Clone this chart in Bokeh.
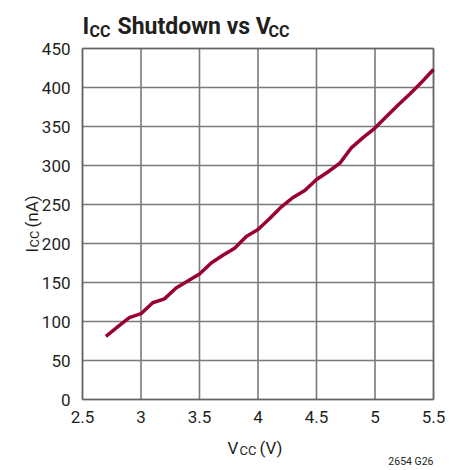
from bokeh.plotting import figure
from bokeh.models import Label, FixedTicker, Range1d, BoxAnnotation
from bokeh.embed import file_html
from bokeh.resources import INLINE

# ---- data ----
vcc = [2.7, 2.8, 2.9, 3.0, 3.1, 3.2, 3.3, 3.4, 3.5, 3.6, 3.7, 3.8, 3.9, 4.0,
       4.1, 4.2, 4.3, 4.4, 4.5, 4.6, 4.7, 4.8, 4.9, 5.0, 5.1, 5.2, 5.3, 5.4, 5.5]
icc = [81, 93, 105, 110, 124, 129, 143, 152, 161, 175, 185, 194, 209, 218,
       232, 247, 259, 268, 282, 292, 303, 323, 336, 348, 363, 378, 392, 407, 423]
x_ticks = [2.5, 3.0, 3.5, 4.0, 4.5, 5.0, 5.5]
x_tick_labels = ["2.5", "3", "3.5", "4", "4.5", "5", "5.5"]
y_ticks = [0, 50, 100, 150, 200, 250, 300, 350, 400, 450]

# ---- layout (page pixels) ----
W, H = 461, 470
PL, PR, PT, PB = 82, 433, 48, 399          # plotting box edges
FONT = "Roboto"
TXT = "#231f20"

x_lo, x_hi = x_ticks[0], x_ticks[-1]
y_lo, y_hi = y_ticks[0], y_ticks[-1]
sx = (PR - PL) / (x_hi - x_lo)
sy = (PB - PT) / (y_hi - y_lo)

p = figure(width=W, height=H, output_backend="svg", toolbar_location=None, title=None,
           x_range=Range1d(x_lo - PL / sx, x_hi + (W - PR) / sx),
           y_range=Range1d(y_lo - (H - PB) / sy, y_hi + PT / sy),
           min_border=0)
p.outline_line_color = None
p.background_fill_color = "white"
p.border_fill_color = "white"
p.xgrid.visible = False
p.ygrid.visible = False

# grid lines from the tick arrays
p.segment(x0=x_ticks, y0=[y_lo] * len(x_ticks), x1=x_ticks, y1=[y_hi] * len(x_ticks),
          line_color="#7a7a7a", line_width=1.6)
p.segment(x0=[x_lo] * len(y_ticks), y0=y_ticks, x1=[x_hi] * len(y_ticks), y1=y_ticks,
          line_color="#7a7a7a", line_width=1.6)

p.line(vcc, icc, line_color="#990033", line_width=3.5)

# plot box border
p.add_layout(BoxAnnotation(left=x_lo, right=x_hi, bottom=y_lo, top=y_hi,
                           fill_alpha=0, line_color="#333333", line_width=2))

# axes pinned to the box edges
xa, ya = p.xaxis[0], p.yaxis[0]
xa.fixed_location = y_lo
ya.fixed_location = x_lo
xa.bounds = (x_lo, x_hi)
ya.bounds = (y_lo, y_hi)
for ax in (xa, ya):
    ax.axis_line_color = None
    ax.major_tick_line_color = None
    ax.minor_tick_line_color = None
    ax.major_tick_in = 0
    ax.major_tick_out = 0
    ax.minor_tick_in = 0
    ax.minor_tick_out = 0
    ax.major_label_text_font = FONT
    ax.major_label_text_font_size = "17px"
    ax.major_label_text_color = TXT
xa.ticker = FixedTicker(ticks=x_ticks)
xa.major_label_overrides = {t: l for t, l in zip(x_ticks, x_tick_labels)}
xa.major_label_standoff = 11
ya.ticker = FixedTicker(ticks=y_ticks)
ya.major_label_standoff = 12


def lab(text, x, y, size, style="normal", align="left", angle=0):
    # x, y: page pixels (from top-left) of the alphabetic baseline anchor.
    # The frame fills the canvas, so screen units = page x, H - page y.
    p.add_layout(Label(text=text, x=x, y=H - y, x_units="screen", y_units="screen",
                       text_font=FONT, text_font_size=size, text_font_style=style,
                       text_align=align, text_baseline="alphabetic",
                       angle=angle, angle_units="deg", text_color=TXT))

# title: I_CC Shutdown vs V_CC
lab("I", 82, 26, "23px", "bold")
lab("CC", 89, 31, "16px", "bold")
lab("Shutdown vs V", 117, 26, "23px", "bold")
lab("CC", 268, 31, "16px", "bold")

# x axis label: V_CC (V)
lab("V", 227, 447, "17px")
lab("CC", 239, 450, "13px")
lab("(V)", 259, 447, "17px")

# y axis label: I_CC (nA), reading upward
lab("I", 31, 252, "17px", angle=90)
lab("CC", 34, 247, "13px", angle=90)
lab("(nA)", 31, 227, "17px", angle=90)

lab("2654 G26", 433, 461, "10.5px", align="right")

open("out.html", "w").write(file_html(p, INLINE))
